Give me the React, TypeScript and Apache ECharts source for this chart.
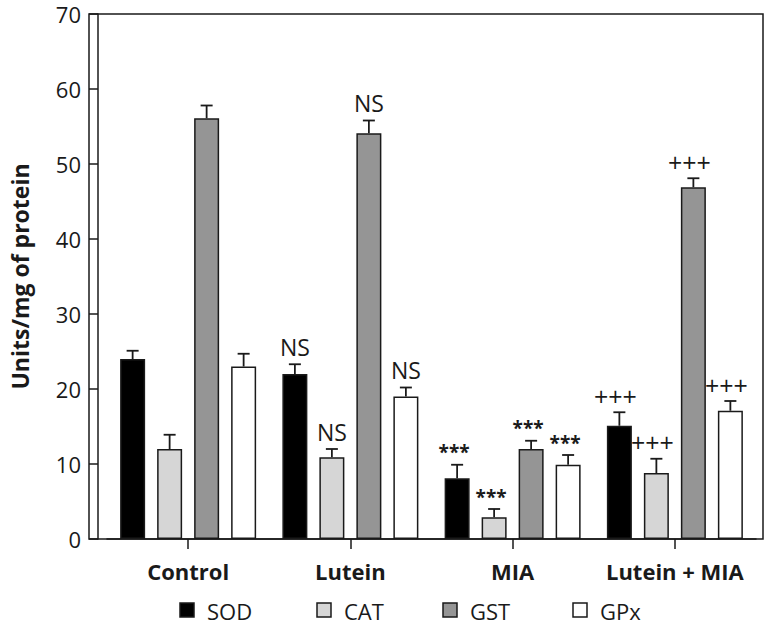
import React, { useEffect, useRef } from "react";
import * as echarts from "echarts";

const categories = ["Control", "Lutein", "MIA", "Lutein + MIA"];
const seriesNames = ["SOD", "CAT", "GST", "GPx"];
const sodValues = [24, 22, 8.1, 15.1];
const catValues = [12, 10.9, 2.9, 8.8];
const gstValues = [56.1, 54.1, 12, 46.9];
const gpxValues = [23, 19, 9.9, 17.1];
const sodErrors = [1.1, 1.3, 1.8, 1.8];
const catErrors = [1.9, 1.1, 1.1, 1.9];
const gstErrors = [1.7, 1.7, 1.1, 1.2];
const gpxErrors = [1.7, 1.2, 1.3, 1.3];
const sodMarks = ["", "NS", "***", "+++"];
const catMarks = ["", "NS", "***", "+++"];
const gstMarks = ["", "NS", "***", "+++"];
const gpxMarks = ["", "NS", "***", "+++"];
const yTicks = [0, 10, 20, 30, 40, 50, 60, 70];

const seriesColors = ["#000000", "#d6d6d6", "#959595", "#ffffff"];
const BAR_W = 25;
const BAR_STEP = 37;
const FONT = "'Open Sans', 'Noto Sans', sans-serif";
const INK = "#1a1a1a";
const LEGEND_X = [180, 317, 443, 573];
const LEGEND_Y = 603;

export default function App() {
  const ref = useRef<HTMLDivElement>(null);
  useEffect(() => {
    if (!ref.current) return;
    const chart = echarts.init(ref.current, undefined, { renderer: "svg" });
    const values = [sodValues, catValues, gstValues, gpxValues];
    const errors = [sodErrors, catErrors, gstErrors, gpxErrors];
    const marks = [sodMarks, catMarks, gstMarks, gpxMarks];

    const errData: number[][] = [];
    const errLabels: string[] = [];
    values.forEach((vals, k) => {
      vals.forEach((v, c) => {
        errData.push([c, k, v, errors[k][c]]);
        errLabels.push(marks[k][c]);
      });
    });

    const barSeries = seriesNames.map((name, k) => ({
      name,
      type: "bar",
      data: values[k],
      barWidth: BAR_W,
      barGap: "48%",
      itemStyle: { color: seriesColors[k], borderColor: INK, borderWidth: 1.5 },
      z: 2,
    }));

    const legendGraphics: any[] = [];
    seriesNames.forEach((name, k) => {
      legendGraphics.push({
        type: "rect",
        shape: { x: LEGEND_X[k], y: LEGEND_Y, width: 14, height: 14 },
        style: { fill: seriesColors[k], stroke: INK, lineWidth: 1.5 },
        silent: true,
      });
      legendGraphics.push({
        type: "text",
        x: LEGEND_X[k] + 27,
        y: LEGEND_Y + 8,
        style: {
          text: name,
          verticalAlign: "middle",
          align: "left",
          fontFamily: FONT,
          fontSize: 22,
          lineHeight: 22,
          fill: INK,
        },
        silent: true,
      });
    });

    const option: any = {
      animation: false,
      textStyle: { fontFamily: FONT },
      grid: { left: 98, right: 9, top: 14, bottom: 88, containLabel: false },
      xAxis: {
        type: "category",
        data: categories,
        axisLine: { show: true, lineStyle: { color: INK, width: 1.5 } },
        axisTick: {
          show: true,
          alignWithLabel: true,
          length: 10,
          lineStyle: { color: INK, width: 1.5 },
        },
        axisLabel: {
          interval: 0,
          fontFamily: FONT,
          fontSize: 22,
          fontWeight: "bold",
          color: INK,
          margin: 21,
        },
      },
      yAxis: {
        type: "value",
        min: yTicks[0],
        max: yTicks[yTicks.length - 1],
        interval: 10,
        offset: 9,
        name: "Units/mg of protein",
        nameLocation: "middle",
        nameGap: 67,
        nameTextStyle: { fontFamily: FONT, fontSize: 23, fontWeight: "bold", color: INK },
        axisLine: { show: true, lineStyle: { color: INK, width: 1.5 } },
        axisTick: { show: true, length: 9, lineStyle: { color: INK, width: 1.5 } },
        axisLabel: { fontFamily: FONT, fontSize: 22, color: INK, margin: 17 },
        splitLine: { show: false },
      },
      graphic: [
        {
          type: "rect",
          shape: { x: 89, y: 14, width: 674, height: 525 },
          style: { fill: "none", stroke: INK, lineWidth: 1.5 },
          silent: true,
          z: 10,
        },
        ...legendGraphics,
      ],
      series: [
        ...barSeries,
        {
          type: "custom",
          name: "errors",
          data: errData,
          encode: { x: 0, y: 2 },
          z: 5,
          renderItem: (params: any, api: any) => {
            const cat = api.value(0);
            const k = api.value(1);
            const v = api.value(2);
            const e = api.value(3);
            const base = api.coord([cat, v]);
            const top = api.coord([cat, v + e]);
            const x = base[0] + (k - 1.5) * BAR_STEP;
            const label = errLabels[params.dataIndex];
            const isStar = label === "***";
            const isPlus = label === "+++";
            const children: any[] = [
              {
                type: "line",
                shape: { x1: x, y1: base[1], x2: x, y2: top[1] },
                style: { stroke: INK, lineWidth: 1.8 },
              },
              {
                type: "line",
                shape: { x1: x - 6, y1: top[1], x2: x + 6, y2: top[1] },
                style: { stroke: INK, lineWidth: 1.8 },
              },
            ];
            if (label) {
              children.push({
                type: "text",
                style: {
                  text: label,
                  x: x - (isStar ? 3 : isPlus ? 4 : 0),
                  y: top[1] - (isStar ? 3 : isPlus ? 4 : 6),
                  align: "center",
                  verticalAlign: "bottom",
                  fontFamily: FONT,
                  fontSize: isStar ? 19 : isPlus ? 25 : 23,
                  fontWeight: isStar ? "bold" : "normal",
                  fill: INK,
                },
              });
            }
            return { type: "group", children };
          },
        },
      ],
    };
    chart.setOption(option);
    return () => chart.dispose();
  }, []);
  return (
    <div
      ref={ref}
      style={{ position: "fixed", left: 0, top: 0, width: 765, height: 627, background: "#fff" }}
    />
  );
}
